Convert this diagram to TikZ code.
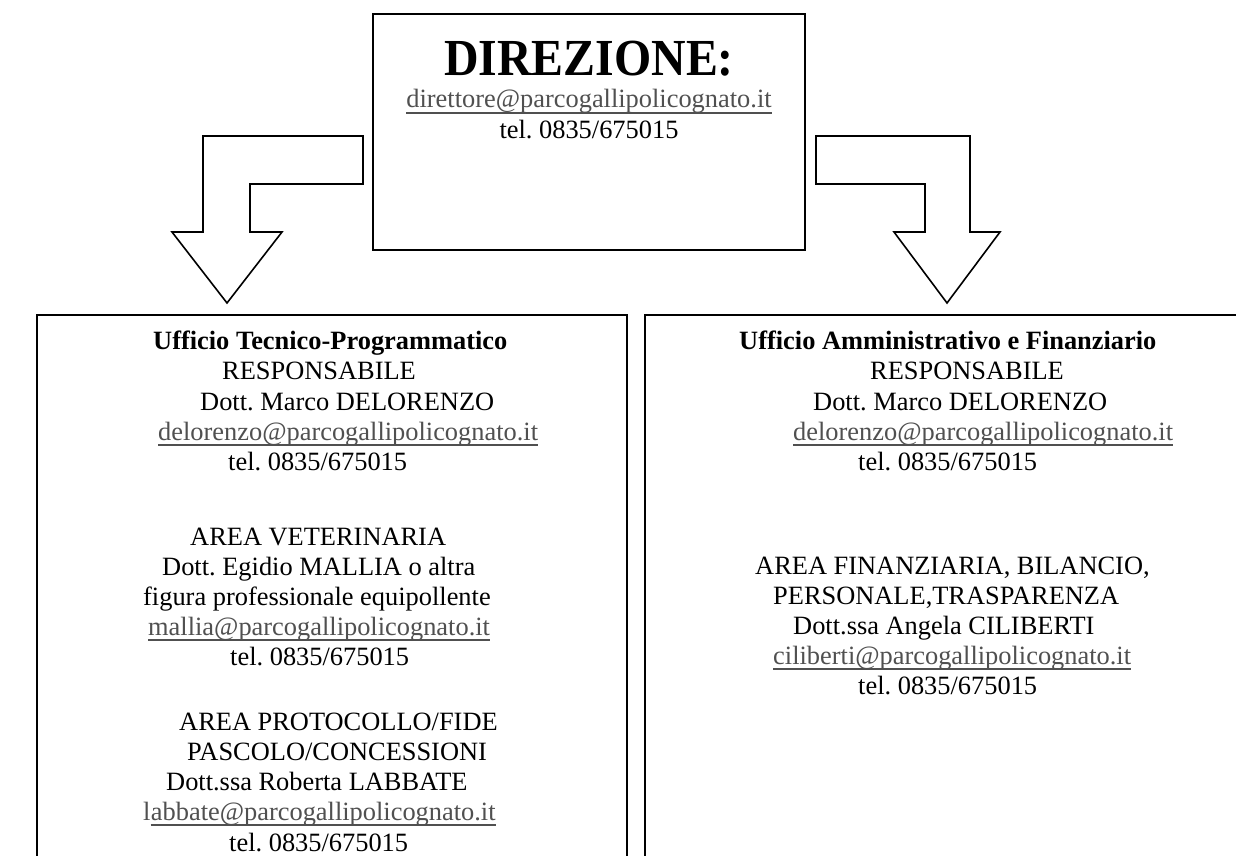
\documentclass[tikz,border=0pt]{standalone}
\usepackage{fontspec}
\setmainfont{Liberation Serif}
\frenchspacing
\definecolor{mailgray}{HTML}{505050}
\tikzset{
  frame/.style={draw=black, line width=1.6pt, inner sep=0pt},
  txt/.style={anchor=base west, inner sep=0pt, font=\fontsize{26.4}{30}\selectfont},
  btxt/.style={txt, font=\fontsize{26.4}{30}\selectfont\bfseries},
  ctxt/.style={txt, anchor=base},
  mailtxt/.style={txt, text=mailgray},
  cmailtxt/.style={ctxt, text=mailgray},
  uline/.style={draw=mailgray, line width=1.3pt},
  blockarrow/.style={draw=black, line width=1.6pt, line join=miter, fill=white},
}
\newcommand\ulnode[1]{\draw[uline] ([yshift=-5pt]#1.base west) -- ([yshift=-5pt]#1.base east);}
\begin{document}
\begin{tikzpicture}[x=1pt,y=-1pt]
\useasboundingbox (0,0) rectangle (1236,856);
\fill[white] (0,0) rectangle (1236,856);

% boxes
\node[frame, minimum width=432pt, minimum height=236pt] (dir) at (589,132) {};
\node[frame, minimum width=590pt, minimum height=600pt] (uff1) at (332,615) {};
\node[frame, minimum width=620pt, minimum height=600pt] (uff2) at (955,615) {};

% block arrows
\draw[blockarrow] (203,136) -- (363,136) -- (363,184) -- (250,184) -- (250,232) -- (282,232)
  -- (227,303) -- (172,232) -- (203,232) -- cycle;
\draw[blockarrow] (816,136) -- (970,136) -- (970,232) -- (1000,232) -- (947,303) -- (894,232)
  -- (925,232) -- (925,184) -- (816,184) -- cycle;

% top box text
\node[ctxt, font=\fontsize{52}{56}\selectfont\bfseries, xscale=0.92] (d1) at (589,76) {DIREZIONE:};
\node[cmailtxt] (d2) at (589,108) {direttore@parcogallipolicognato.it};
\ulnode{d2}
\node[ctxt] (d3) at (589,139) {tel. 0835/675015};

% left box text
\node[btxt] (l1) at (153,349) {Ufficio Tecnico-Programmatico};
\node[txt] (l2) at (222,379) {RESPONSABILE};
\node[txt] (l3) at (200,410) {Dott. Marco DELORENZO};
\node[mailtxt] (l4) at (158,440) {delorenzo@parcogallipolicognato.it};
\ulnode{l4}
\node[txt] (l5) at (228,470) {tel. 0835/675015};
\node[txt] (l6) at (190,545) {AREA VETERINARIA};
\node[txt] (l7) at (162,575) {Dott. Egidio MALLIA o altra};
\node[txt] (l8) at (143,605) {figura professionale equipollente};
\node[mailtxt] (l9) at (148,635) {mallia@parcogallipolicognato.it};
\ulnode{l9}
\node[txt] (l10) at (230,665) {tel. 0835/675015};
\node[txt] (l11) at (179,730) {AREA PROTOCOLLO/FIDE};
\node[txt] (l12) at (187,760) {PASCOLO/CONCESSIONI};
\node[txt] (l13) at (166,790) {Dott.ssa Roberta LABBATE};
\node[mailtxt] (l14a) at (143,820) {l};
\node[mailtxt] (l14) at (l14a.base east) {abbate@parcogallipolicognato.it};
\ulnode{l14}
\node[txt] (l15) at (229,851) {tel. 0835/675015};

% right box text
\node[btxt] (r1) at (739,349) {Ufficio Amministrativo e Finanziario};
\node[txt] (r2) at (870,379) {RESPONSABILE};
\node[txt] (r3) at (813,410) {Dott. Marco DELORENZO};
\node[mailtxt] (r4) at (793,440) {delorenzo@parcogallipolicognato.it};
\ulnode{r4}
\node[txt] (r5) at (858,470) {tel. 0835/675015};
\node[txt] (r6) at (755,574) {AREA FINANZIARIA, BILANCIO,};
\node[txt] (r7) at (773,604) {PERSONALE,TRASPARENZA};
\node[txt] (r8) at (793,634) {Dott.ssa Angela CILIBERTI};
\node[mailtxt] (r9) at (773,664) {ciliberti@parcogallipolicognato.it};
\ulnode{r9}
\node[txt] (r10) at (858,694) {tel. 0835/675015};
\end{tikzpicture}
\end{document}
